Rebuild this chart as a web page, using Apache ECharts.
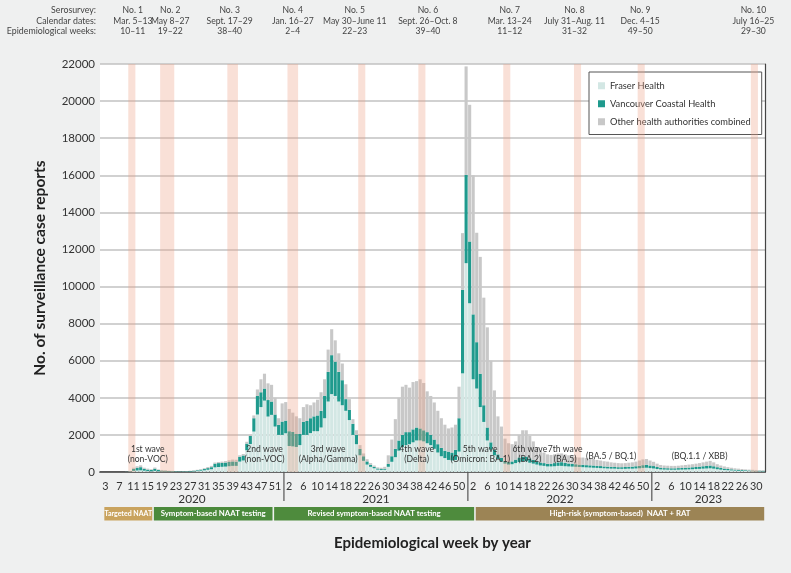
<!DOCTYPE html>
<html><head><meta charset="utf-8">
<script src="https://cdn.jsdelivr.net/npm/echarts@6/dist/echarts.min.js"></script>
<style>html,body{margin:0;padding:0;background:#eff0f0}#c{width:791px;height:573px}</style>
</head><body><div id="c"></div>
<script>
// ---------- DATA ----------
const years = [2020, 2021, 2022, 2023];
const firstWeek = [2, 1, 1, 1];
const lastWeek = [53, 52, 52, 32];

const fraser2020 = [0,1,0,1,1,1,1,3,15,60, 80,90,70,50,40,60,40,30,25,20, 20,15,12,15,18,25,35,50,70,90, 120,150,250,270,280,290,310,330,330,560, 620,1170,1510,2180,3100,3500,3850,2990,3080,2450, 2000,2000];
const vch2020 = [0,1,1,1,1,1,1,5,25,110, 150,170,100,80,70,120,70,50,45,35, 30,25,20,22,25,30,35,45,55,70, 90,110,200,210,210,220,230,240,230,260, 270,360,430,720,1000,800,650,890,720,650, 540,720];
const other2020 = [0,1,0,1,1,0,1,3,15,60, 80,100,60,50,40,60,30,30,20,15, 10,10,8,10,12,15,20,25,35,45, 60,70,60,60,70,80,90,100,100,80, 80,100,60,150,350,700,800,900,900,900, 360,980];

const fraser2021 = [2090,1400,1380,1350,1450,2000,2000,2100,2200,2200, 2400,2900,3800,4200,4100,3800,3600,3300,2800,2000, 1500,900,600,400,280,200,130,110,120,280, 550,800,1150,1350,1450,1500,1600,1700,1700,1650, 1550,1450,1250,1050,850,750,650,620,650,1100, 5320,11260];
const vch2021 = [680,800,780,700,600,700,750,800,800,850, 900,1200,1600,2100,1850,1600,1350,630,550,600, 500,350,250,170,110,80,60,50,60,150, 300,450,550,650,700,650,700,700,650,600, 600,550,500,450,450,400,450,430,550,1800, 4500,4760];
const other2021 = [1000,1200,1040,950,850,800,900,700,750,850, 1000,900,1200,1400,1150,1000,900,800,580,250, 250,200,150,120,90,70,60,70,100,470, 900,1600,2300,2600,2550,2400,2550,2500,2650,2550, 2200,2100,2000,1800,1600,1400,1250,1350,1350,1700, 3060,5850];

const fraser2022 = [9100,5000,4500,3500,2700,1700,1200,900,700,560, 450,400,420,480,540,580,580,500,450,400, 350,330,300,300,310,330,330,310,300,290, 280,270,260,250,240,230,220,210,200,190, 180,180,170,170,170,180,180,190,200,220, 230,210];
const vch2022 = [3330,3500,2500,1800,900,700,400,300,250,200, 150,140,150,190,240,250,250,230,200,180, 160,150,140,150,170,190,200,180,160,150, 140,130,130,120,120,120,110,110,100,100, 100,90,90,90,100,100,110,120,130,150, 160,140];
const other2022 = [7370,7500,5900,6300,5800,5400,4400,3200,2050,1690, 1200,1010,930,980,1220,1420,1420,1220,1000,770, 640,570,510,470,470,480,470,460,440,410, 380,380,390,380,360,350,320,300,280,270, 240,230,220,210,210,220,230,250,290,310, 310,270];

const fraser2023 = [190,160,140,130,125,120,120,125,130,135, 140,150,160,170,180,190,200,180,150,125, 105,95,85,75,65,60,55,50,45,40, 40,35];
const vch2023 = [130,110,90,80,80,80,80,85,90,95, 100,105,110,120,130,140,150,130,110,95, 80,70,60,55,50,45,40,35,35,30, 30,30];
const other2023 = [230,180,150,140,135,130,130,130,140,150, 160,165,180,190,210,230,250,210,160,130, 115,95,85,70,65,55,45,45,40,40, 35,35];

const seriesNames = ['Fraser Health', 'Vancouver Coastal Health', 'Other health authorities combined'];

const yTicks = {min: 0, max: 22000, interval: 2000};

const seroNames = ['No. 1','No. 2','No. 3','No. 4','No. 5','No. 6','No. 7','No. 8','No. 9','No. 10'];
const seroDates = ['Mar. 5–13','May 8–27','Sept. 17–29','Jan. 16–27','May 30–June 11','Sept. 26–Oct. 8','Mar. 13–24','July 31–Aug. 11','Dec. 4–15','July 16–25'];
const seroWeeks = ['10–11','19–22','38–40','2–4','22–23','39–40','11–12','31–32','49–50','29–30'];
const seroYear = [2020,2020,2020,2021,2021,2021,2022,2022,2022,2023];
const seroStart = [10,19,38,2,22,39,11,31,49,29];
const seroEnd = [11,22,40,4,23,40,12,32,50,30];
const headerRowLabels = ['Serosurvey:', 'Calendar dates:', 'Epidemiological weeks:'];

const waveLabels = ['1st wave\n(non-VOC)','2nd wave\n(non-VOC)','3rd wave\n(Alpha/Gamma)','4th wave\n(Delta)','5th wave\n(Omicron: BA.1)','6th wave\n(BA.2)','7th wave\n(BA.5)','(BA.5 / BQ.1)','(BQ.1.1 / XBB)'];
const waveYear = [2020,2020,2021,2021,2022,2022,2022,2022,2023];
const waveWeek = [15,48,13,38,4,18,28,41,14];
const waveLevel = [970,970,970,970,970,970,970,825,825];

const eraNames = ['Targeted NAAT','Symptom-based NAAT testing','Revised symptom-based NAAT testing','High-risk (symptom-based)  NAAT + RAT'];
const eraFrom = [[2020,3],[2020,17],[2020,51],[2022,3]];
const eraTo = [[2020,16],[2020,50],[2022,2],[2023,32]];

// ---------- STYLE ----------
const FONT = 'Lato, "Noto Sans", sans-serif';
const colors = ['#d3e7e4', '#1f9a8d', '#c8c8c8'];
const eraColors = ['#c9a35e', '#4b8a3c', '#4e8b3d', '#9c8455'];
const headerDx = [1, 3, -3, 0, -7, 6, 3, -3, -1, -1];
const headerRowsY = [10.5, 21, 31.5];

// ---------- BUILD ----------
const yearOffset = {};
const categories = [];
(function(){
  let acc = 0;
  years.forEach((y, i) => {
    yearOffset[y] = acc - firstWeek[i];
    for (let w = firstWeek[i]; w <= lastWeek[i]; w++) categories.push(y + '-' + w);
    acc += lastWeek[i] - firstWeek[i] + 1;
  });
})();
const idx = (y, w) => yearOffset[y] + w;

const fraser = [].concat(fraser2020, fraser2021, fraser2022, fraser2023);
const vch = [].concat(vch2020, vch2021, vch2022, vch2023);
const other = [].concat(other2020, other2021, other2022, other2023);

const seroData = seroNames.map((n, i) => [idx(seroYear[i], seroStart[i]), idx(seroYear[i], seroEnd[i]), i]);
const yearData = years.map((y, i) => [idx(y, firstWeek[i]), idx(y, lastWeek[i]), i]);
const eraData = eraNames.map((n, i) => [idx(eraFrom[i][0], eraFrom[i][1]), idx(eraTo[i][0], eraTo[i][1]), i]);
const waveData = waveLabels.map((t, i) => [idx(waveYear[i], waveWeek[i]), waveLevel[i], i]);

function txt(text, x, y, o) {
  return {type: 'text', style: Object.assign({
    text, x, y, fill: '#333', fontFamily: FONT, fontSize: 10,
    align: 'center', textAlign: 'center', verticalAlign: 'middle', textVerticalAlign: 'middle'
  }, o || {})};
}

const chart = echarts.init(document.getElementById('c'));
chart.setOption({
  backgroundColor: '#eff0f0',
  animation: false,
  textStyle: {fontFamily: FONT},
  graphic: headerRowLabels.map((t, i) => ({
    type: 'text', x: 96, y: headerRowsY[i],
    style: {text: t, fill: '#444', fontFamily: FONT, fontSize: 8.8, textAlign: 'right', align: 'right', textVerticalAlign: 'middle', verticalAlign: 'middle'}
  })),
  legend: {
    orient: 'vertical', left: 589, top: 72,
    data: seriesNames,
    itemWidth: 7, itemHeight: 7, itemGap: 6.5, icon: 'rect',
    padding: [8, 11, 7, 9],
    backgroundColor: '#fff', borderColor: '#555', borderWidth: 1,
    textStyle: {fontSize: 9.3, color: '#333', fontFamily: FONT, lineHeight: 11.5}
  },
  grid: {left: 100, right: 26, top: 64, bottom: 101, show: true, backgroundColor: '#fff', borderWidth: 0},
  xAxis: [{
    type: 'category', data: categories, boundaryGap: true,
    name: 'Epidemiological week by year', nameLocation: 'middle', nameGap: 64,
    nameTextStyle: {fontSize: 15, fontWeight: 'bold', color: '#222', fontFamily: FONT},
    axisLine: {lineStyle: {color: '#333', width: 1.5}},
    axisTick: {interval: 0, length: 4, lineStyle: {color: '#333'}},
    axisLabel: {
      interval: (i, v) => { const p = v.split('-').map(Number); return p[0] === 2020 ? p[1] % 4 === 3 : p[1] % 4 === 2; },
      formatter: v => v.split('-')[1],
      fontSize: 10.8, color: '#333', margin: 9, fontFamily: FONT
    }
  }, {
    type: 'category', data: categories, position: 'top',
    axisLine: {show: true, lineStyle: {color: '#666', width: 1}},
    axisTick: {show: false}, axisLabel: {show: false}
  }],
  yAxis: [{
    type: 'value', min: yTicks.min, max: yTicks.max, interval: yTicks.interval,
    name: 'No. of surveillance case reports', nameLocation: 'middle', nameGap: 52,
    nameTextStyle: {fontSize: 15.5, fontWeight: 'bold', color: '#222', fontFamily: FONT},
    axisLine: {show: false}, axisTick: {show: false},
    axisLabel: {fontSize: 11.5, color: '#333', margin: 5, fontFamily: FONT, formatter: v => String(v)},
    splitLine: {lineStyle: {color: '#c2c2c2', width: 1.5}}
  }, {
    type: 'value', min: yTicks.min, max: yTicks.max, position: 'right',
    axisLine: {show: true, lineStyle: {color: '#444', width: 1.2}},
    axisTick: {show: false}, axisLabel: {show: false}, splitLine: {show: false}
  }],
  series: [
    {name: seriesNames[0], type: 'bar', stack: 'all', data: fraser, itemStyle: {color: colors[0]}, barCategoryGap: '12%'},
    {name: seriesNames[1], type: 'bar', stack: 'all', data: vch, itemStyle: {color: colors[1]}, barCategoryGap: '12%'},
    {name: seriesNames[2], type: 'bar', stack: 'all', data: other, itemStyle: {color: colors[2]}, barCategoryGap: '12%'},
    {
      type: 'custom', name: 'sero', z: 10, clip: false, silent: true,
      data: seroData, encode: {x: [0, 1]},
      renderItem(params, api) {
        const s = api.coord([api.value(0), 0]);
        const e = api.coord([api.value(1), 0]);
        const bw = api.size([1, 0])[0];
        const cs = params.coordSys;
        const i = api.value(2);
        const cx = (s[0] + e[0]) / 2 + headerDx[i];
        const o = {fill: '#444', fontSize: 8.6};
        return {type: 'group', children: [
          {type: 'rect', shape: {x: s[0] - bw / 2, y: cs.y, width: e[0] - s[0] + bw, height: cs.height},
           style: {fill: 'rgba(238,160,135,0.33)'}},
          txt(seroNames[i], cx, headerRowsY[0], o),
          txt(seroDates[i], cx, headerRowsY[1], o),
          txt(seroWeeks[i], cx, headerRowsY[2], o)
        ]};
      }
    },
    {
      type: 'custom', name: 'years', z: 10, clip: false, silent: true,
      data: yearData, encode: {x: [0, 1]},
      renderItem(params, api) {
        const s = api.coord([api.value(0), 0]);
        const e = api.coord([api.value(1), 0]);
        const bw = api.size([1, 0])[0];
        const cs = params.coordSys;
        const base = cs.y + cs.height;
        const i = api.value(2);
        const children = [txt(String(years[i]), (s[0] + e[0]) / 2, base + 27, {fontSize: 11.8})];
        if (i > 0) children.push({type: 'line', shape: {x1: s[0] - bw / 2, y1: base, x2: s[0] - bw / 2, y2: base + 29}, style: {stroke: '#555', lineWidth: 1.2}});
        return {type: 'group', children};
      }
    },
    {
      type: 'custom', name: 'eras', z: 10, clip: false, silent: true,
      data: eraData, encode: {x: [0, 1]},
      renderItem(params, api) {
        const s = api.coord([api.value(0), 0]);
        const e = api.coord([api.value(1), 0]);
        const bw = api.size([1, 0])[0];
        const cs = params.coordSys;
        const base = cs.y + cs.height;
        const i = api.value(2);
        const x0 = s[0] - bw / 2 + 0.8, x1 = e[0] + bw / 2 - 0.8;
        return {type: 'group', children: [
          {type: 'rect', shape: {x: x0, y: base + 35, width: x1 - x0, height: 13.5}, style: {fill: eraColors[i]}},
          txt(eraNames[i], (x0 + x1) / 2, base + 41.8, {fill: '#fff', fontSize: i === 0 ? 7 : 7.8, fontWeight: 'bold'})
        ]};
      }
    },
    {
      type: 'custom', name: 'waves', z: 11, clip: false, silent: true,
      data: waveData, encode: {x: 0, y: 1},
      renderItem(params, api) {
        const p = api.coord([api.value(0), api.value(1)]);
        return txt(waveLabels[api.value(2)], p[0], p[1], {fontSize: 8.6, lineHeight: 9.5, fill: '#333'});
      }
    }
  ]
});
</script></body></html>
